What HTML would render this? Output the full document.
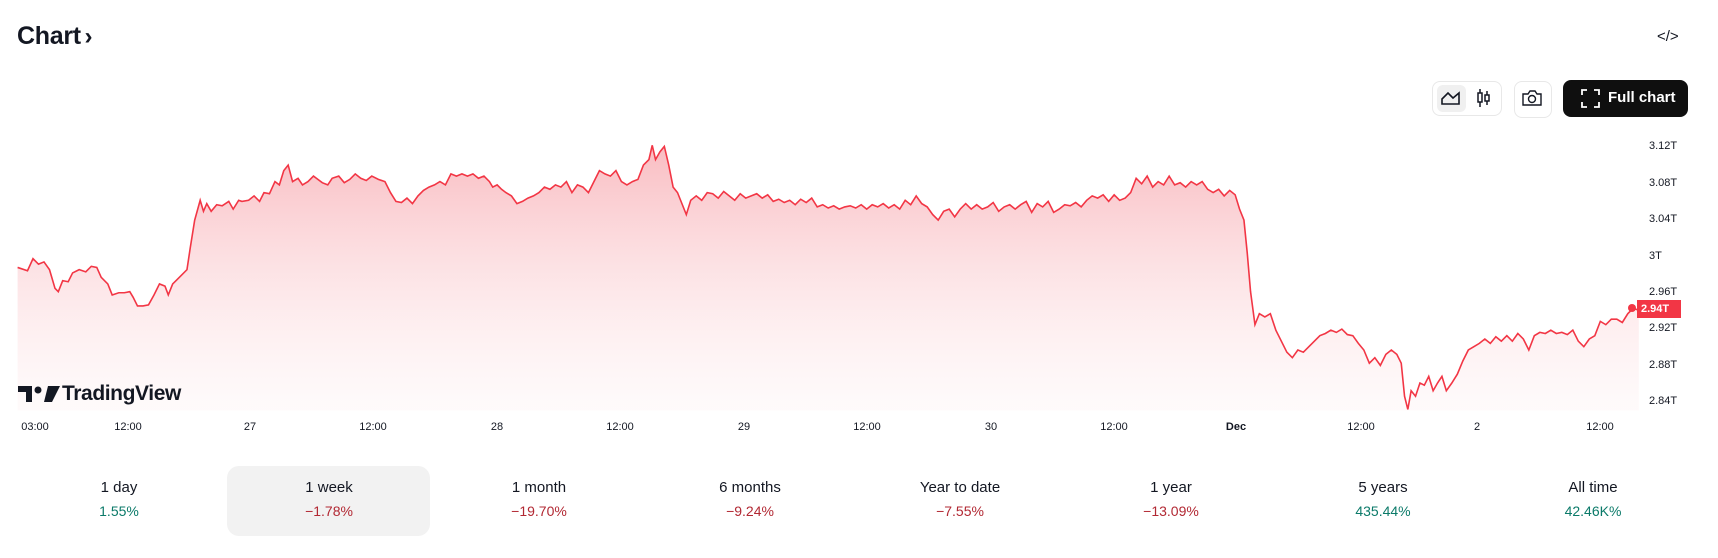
<!DOCTYPE html>
<html><head><meta charset="utf-8"><style>
body{margin:0;width:1718px;height:558px;background:#fff;position:relative;overflow:hidden;font-family:"Liberation Sans",sans-serif;color:#131722}
.a{position:absolute}
.yl{position:absolute;left:1649px;font-size:11px;color:#131722;line-height:12px}
.xl{position:absolute;top:421px;font-size:11px;color:#131722;transform:translateX(-50%)}
.col{position:absolute;width:210px;text-align:center;top:478px}
.col .n{font-size:15px;color:#131722;line-height:20px}
.col .v{font-size:14px;line-height:18px;margin-top:4px}
.g{color:#0b7a69}.r{color:#b22833}
</style></head><body>
<div class="a" style="left:17px;top:22px;font-size:25px;font-weight:bold;letter-spacing:-0.3px">Chart <span style="font-size:24px;margin-left:-3px">&#8250;</span></div>
<div class="a" style="left:1657px;top:28px;font-size:15px">&lt;/&gt;</div>
<div class="a" style="left:1432px;top:81px;width:68px;height:33px;border:1px solid #e8e8e8;border-radius:8px"></div>
<div class="a" style="left:1437px;top:85px;width:29px;height:27px;background:#f0f0f0;border-radius:6px"></div>
<svg class="a" style="left:1440px;top:89px" width="22" height="18" viewBox="0 0 22 18"><path d="M2 15 L2 10 L8 4 L13 9 L19 4 L19 15 Z" fill="none" stroke="#131722" stroke-width="1.6"/></svg>
<svg class="a" style="left:1476px;top:86px" width="16" height="24" viewBox="0 0 16 24"><line x1="4" y1="3" x2="4" y2="21" stroke="#131722" stroke-width="1.5"/><rect x="2" y="7" width="4" height="9" fill="#fff" stroke="#131722" stroke-width="1.5"/><line x1="11" y1="5" x2="11" y2="19" stroke="#131722" stroke-width="1.5"/><rect x="9" y="9" width="4" height="6" fill="#fff" stroke="#131722" stroke-width="1.5"/></svg>
<div class="a" style="left:1514px;top:81px;width:36px;height:35px;border:1px solid #e8e8e8;border-radius:8px"></div>
<svg class="a" style="left:1521px;top:89px" width="22" height="18" viewBox="0 0 22 18"><path d="M2 5 H7 L9 2 H14 L16 5 H20 V16 H2 Z" fill="none" stroke="#131722" stroke-width="1.4"/><circle cx="11" cy="10" r="3.5" fill="none" stroke="#131722" stroke-width="1.4"/></svg>
<div class="a" style="left:1563px;top:80px;width:125px;height:37px;background:#0f0f0f;border-radius:8px"></div>
<svg class="a" style="left:1581px;top:89px" width="19" height="19" viewBox="0 0 19 19" fill="none" stroke="#fff" stroke-width="1.8"><path d="M1 6V1H6M13 1H18V6M18 13V18H13M6 18H1V13"/></svg>
<div class="a" style="left:1608px;top:89px;color:#fff;font-size:15px;font-weight:bold">Full chart</div>

<svg class="a" style="left:0;top:0" width="1718" height="558" viewBox="0 0 1562 507" preserveAspectRatio="none">
<defs><linearGradient id="f" x1="0" y1="0" x2="0" y2="1"><stop offset="0" stop-color="#f7a6ad" stop-opacity="0.75"/><stop offset="1" stop-color="#fde8ea" stop-opacity="0.2"/></linearGradient></defs>
<path id="p" fill="url(#f)" stroke="none" d=""/>
<path id="l" fill="none" stroke="#f23645" stroke-width="1.6" vector-effect="non-scaling-stroke" d=""/>
</svg>
<div class="a" style="left:1628px;top:304px;width:8px;height:8px;border-radius:50%;background:#f23645"></div>

<div class="yl" style="top:140px">3.12T</div>
<div class="yl" style="top:177px">3.08T</div>
<div class="yl" style="top:213px">3.04T</div>
<div class="yl" style="top:250px">3T</div>
<div class="yl" style="top:286px">2.96T</div>
<div class="a" style="left:1637px;top:300px;width:44px;height:18px;background:#f23645;color:#fff;font-size:11px;font-weight:bold;line-height:18px;text-indent:4px">2.94T</div>
<div class="yl" style="top:322px">2.92T</div>
<div class="yl" style="top:359px">2.88T</div>
<div class="yl" style="top:395px">2.84T</div>

<svg class="a" style="left:18px;top:386px" width="42" height="16" viewBox="0 0 42 16"><path d="M0 0H14V16H8V6H0Z M30 0H42L34 16H26Z" fill="#131722"/><circle cx="20" cy="4" r="3.5" fill="#131722"/></svg>
<div class="a" style="left:62px;top:382px;font-size:21px;font-weight:bold;letter-spacing:-0.4px">TradingView</div>

<div class="xl" style="left:35px">03:00</div>
<div class="xl" style="left:128px">12:00</div>
<div class="xl" style="left:250px">27</div>
<div class="xl" style="left:373px">12:00</div>
<div class="xl" style="left:497px">28</div>
<div class="xl" style="left:620px">12:00</div>
<div class="xl" style="left:744px">29</div>
<div class="xl" style="left:867px">12:00</div>
<div class="xl" style="left:991px">30</div>
<div class="xl" style="left:1114px">12:00</div>
<div class="xl" style="left:1236px;font-weight:bold">Dec</div>
<div class="xl" style="left:1361px">12:00</div>
<div class="xl" style="left:1477px">2</div>
<div class="xl" style="left:1600px">12:00</div>

<div class="a" style="left:227px;top:466px;width:203px;height:70px;background:#f2f2f2;border-radius:12px"></div>
<div class="col" style="left:14px"><div class="n">1 day</div><div class="v g">1.55%</div></div>
<div class="col" style="left:224px"><div class="n">1 week</div><div class="v r">−1.78%</div></div>
<div class="col" style="left:434px"><div class="n">1 month</div><div class="v r">−19.70%</div></div>
<div class="col" style="left:645px"><div class="n">6 months</div><div class="v r">−9.24%</div></div>
<div class="col" style="left:855px"><div class="n">Year to date</div><div class="v r">−7.55%</div></div>
<div class="col" style="left:1066px"><div class="n">1 year</div><div class="v r">−13.09%</div></div>
<div class="col" style="left:1278px"><div class="n">5 years</div><div class="v g">435.44%</div></div>
<div class="col" style="left:1488px"><div class="n">All time</div><div class="v g">42.46K%</div></div>

<script>
var d=[16,243,25,246,30,235,35,240,40,238,45,245,50,262,53,265,57,255,62,256,66,248,72,245,78,247,83,242,88,243,92,252,98,258,102,268,108,266,113,266,118,265,121,270,125,278,130,278,135,277,140,268,145,258,150,260,153,268,157,258,160,255,165,250,170,245,173,225,177,200,182,182,185,192,188,185,192,192,197,186,202,187,208,183,212,190,217,182,220,183,226,182,231,178,236,183,240,175,245,176,250,165,254,168,258,155,262,150,266,165,271,162,275,168,280,165,285,160,289,163,293,166,298,168,302,162,308,160,313,166,318,163,323,158,328,162,333,164,338,160,344,163,350,165,355,175,360,183,365,184,370,180,375,185,380,178,385,173,390,170,395,168,400,165,405,168,410,158,415,160,420,158,425,160,430,158,435,162,440,160,445,165,448,170,452,168,456,172,460,175,465,178,470,185,475,183,480,180,485,178,490,175,495,170,500,172,505,168,510,170,515,165,520,175,525,168,530,170,535,175,540,165,545,155,550,158,555,160,560,155,565,165,570,168,575,165,580,163,585,150,590,145,593,132,596,145,600,138,604,133,608,150,612,170,616,175,620,185,624,195,628,182,633,178,638,182,643,175,648,176,653,180,658,174,663,178,668,182,673,176,678,180,683,178,688,176,693,180,698,177,703,183,708,181,713,184,718,182,723,186,728,181,733,184,738,180,743,188,748,186,753,189,758,187,763,190,768,188,773,187,778,189,783,186,788,190,793,186,798,188,803,185,808,189,813,186,818,190,823,182,828,186,833,178,838,185,843,188,848,195,853,200,858,192,863,190,868,197,873,190,878,185,883,190,888,186,893,190,898,188,903,184,908,192,913,188,918,186,923,190,928,186,933,183,938,193,943,185,948,188,953,183,958,193,963,190,968,186,973,187,978,184,983,188,988,182,993,178,998,180,1003,177,1008,183,1013,177,1018,182,1023,180,1028,175,1033,162,1038,167,1043,160,1048,170,1053,165,1058,168,1063,160,1068,168,1073,166,1078,170,1083,165,1088,168,1093,165,1098,172,1103,175,1108,172,1113,178,1118,173,1123,177,1127,190,1131,200,1134,230,1137,265,1141,295,1145,285,1150,288,1155,285,1160,300,1165,310,1170,320,1175,325,1180,318,1185,320,1190,315,1195,310,1200,305,1205,303,1210,300,1215,302,1220,299,1225,304,1230,305,1235,312,1240,318,1245,330,1250,325,1255,332,1260,322,1265,318,1270,322,1274,330,1277,360,1280,372,1283,355,1287,360,1291,348,1295,350,1299,342,1303,355,1307,348,1311,342,1315,355,1320,348,1325,340,1330,328,1335,318,1340,315,1345,312,1350,308,1355,312,1360,306,1365,310,1370,305,1375,310,1380,303,1385,308,1390,318,1395,305,1400,302,1405,303,1410,300,1415,303,1420,302,1425,304,1430,300,1435,310,1440,315,1445,308,1450,305,1455,292,1460,295,1465,290,1470,290,1475,293,1480,285,1485,280,1490,282];
var s="M"+d[0]+" "+d[1];for(var i=2;i<d.length;i+=2)s+=" L"+d[i]+" "+d[i+1];
document.getElementById('l').setAttribute('d',s);
document.getElementById('p').setAttribute('d',s+" L1490 373 L16 373 Z");
</script>
</body></html>
